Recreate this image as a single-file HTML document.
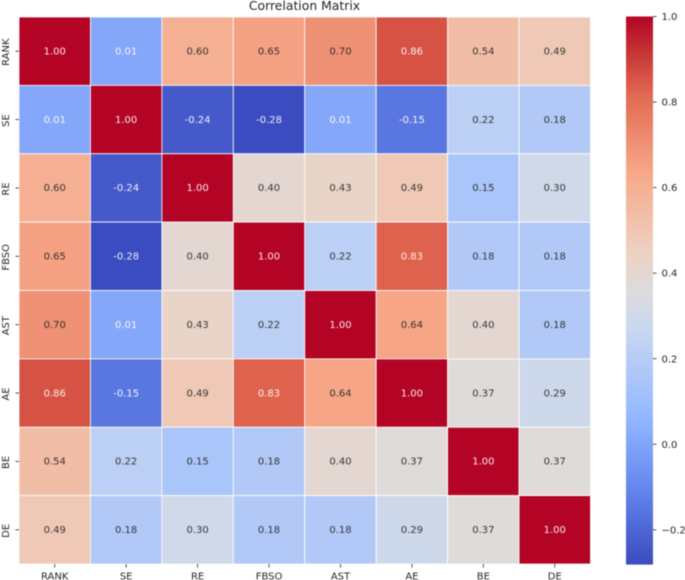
<!DOCTYPE html>
<html>
<head>
<meta charset="utf-8">
<title>Correlation Matrix</title>
<style>
html,body{margin:0;padding:0;background:#fff;width:685px;height:580px;overflow:hidden}
svg{display:block;filter:blur(0.4px)}
text{font-family:"DejaVu Sans","Liberation Sans",sans-serif;font-size:10px;fill:#262626}
</style>
</head>
<body>
<svg id="chart" xmlns="http://www.w3.org/2000/svg" width="685" height="580" viewBox="0 0 685 580"></svg>
<script>
const categories = ["RANK","SE","RE","FBSO","AST","AE","BE","DE"];
const row0 = [1.00,0.01,0.60,0.65,0.70,0.86,0.54,0.49];
const row1 = [0.01,1.00,-0.24,-0.28,0.01,-0.15,0.22,0.18];
const row2 = [0.60,-0.24,1.00,0.40,0.43,0.49,0.15,0.30];
const row3 = [0.65,-0.28,0.40,1.00,0.22,0.83,0.18,0.18];
const row4 = [0.70,0.01,0.43,0.22,1.00,0.64,0.40,0.18];
const row5 = [0.86,-0.15,0.49,0.83,0.64,1.00,0.37,0.29];
const row6 = [0.54,0.22,0.15,0.18,0.40,0.37,1.00,0.37];
const row7 = [0.49,0.18,0.30,0.18,0.18,0.29,0.37,1.00];
const matrix = [row0,row1,row2,row3,row4,row5,row6,row7];
const colorbarTicks = [-0.2,0,0.2,0.4,0.6,0.8,1.0];
const chartTitle = "Correlation Matrix";

const svg = document.getElementById('chart');
const NS = 'http://www.w3.org/2000/svg';
const plot = {left:19, right:590.5, top:17, bottom:564};
const bar = {left:626, right:653, top:16.5, bottom:564};
const vmin = -0.28, vmax = 1.0;
const lut = [
  [0,59,76,192],[0.143,103,136,238],[0.25,141,176,254],[0.286,154,187,255],
  [0.429,201,215,240],[0.5,221,220,220],[0.571,237,209,194],[0.714,247,168,137],
  [0.857,226,105,82],[0.93,200,56,54],[1,180,4,38]
];

function cmap(v){
  const t = Math.max(0,Math.min(1,(v-vmin)/(vmax-vmin)));
  let i = 0;
  while(i<lut.length-2 && t>lut[i+1][0]){i++;}
  const a = lut[i], b = lut[i+1];
  const f = (t-a[0])/(b[0]-a[0]);
  return [1,2,3].map(k=>Math.round(a[k]+(b[k]-a[k])*f));
}
function css(c){return 'rgb('+c.join(',')+')';}
function luminance(c){
  const l = c.map(x=>{x/=255;return x<=0.03928?x/12.92:Math.pow((x+0.055)/1.055,2.4);});
  return 0.2126*l[0]+0.7152*l[1]+0.0722*l[2];
}
function xScale(i){return plot.left+(plot.right-plot.left)*i/categories.length;}
function yScale(i){return plot.top+(plot.bottom-plot.top)*i/categories.length;}
function barY(v){return bar.top+(bar.bottom-bar.top)*(vmax-v)/(vmax-vmin);}
function make(tag,attrs,text){
  const el = document.createElementNS(NS,tag);
  for(const k in attrs){el.setAttribute(k,attrs[k]);}
  if(text!==undefined){el.textContent=text;}
  svg.appendChild(el);
  return el;
}

const bg = make('rect',{x:0,y:0,width:685,height:580,fill:'#ffffff'});



const titleEl = make('text',{x:304.5,y:10,'text-anchor':'middle',style:'font-size:12.4px'},chartTitle);



matrix.forEach((row,r)=>{
  row.forEach((v,c)=>{
    const col = cmap(v);
    const x0 = xScale(c), x1 = xScale(c+1), y0 = yScale(r), y1 = yScale(r+1);
    const cell = make('rect',{x:x0,y:y0,width:x1-x0,height:y1-y0,fill:css(col),stroke:'#ffffff','stroke-width':0.8});
    
    
    const light = luminance(col)<0.398;
    const label = make('text',{x:(x0+x1)/2,y:(y0+y1)/2+3.2,'text-anchor':'middle',style:'fill:'+(light?'#ffffff':'#262626')+';fill-opacity:0.9'},v.toFixed(2));
    
    
  });
});

categories.forEach((name,i)=>{
  const cx = (xScale(i)+xScale(i+1))/2;
  const xt = make('line',{x1:cx,x2:cx,y1:plot.bottom,y2:plot.bottom+3.5,stroke:'#262626','stroke-width':0.8});
  
  
  const xl = make('text',{x:cx,y:579.5,'text-anchor':'middle'},name);
  
  
  const cy = (yScale(i)+yScale(i+1))/2;
  const yt = make('line',{x1:plot.left-3.5,x2:plot.left,y1:cy,y2:cy,stroke:'#262626','stroke-width':0.8});
  
  
  const yl = make('text',{x:0,y:0,'text-anchor':'middle',transform:'translate(8.8,'+(cy+1)+') rotate(-90)'},name);
  
  
});

const strips = 256;
for(let s=0;s<strips;s++){
  const a = vmax-(vmax-vmin)*s/strips;
  const b = vmax-(vmax-vmin)*(s+1)/strips;
  const strip = make('rect',{x:bar.left,y:barY(a),width:bar.right-bar.left,height:barY(b)-barY(a)+0.6,fill:css(cmap((a+b)/2))});
  
  
}

colorbarTicks.forEach(v=>{
  const y = barY(v);
  const t = make('line',{x1:bar.right,x2:bar.right+3.5,y1:y,y2:y,stroke:'#262626','stroke-width':0.8});
  
  
  const l = make('text',{x:bar.right+8.5,y:y+3.6},v.toFixed(1).replace('-','\u2212'));
  
  
});
</script>
</body>
</html>
